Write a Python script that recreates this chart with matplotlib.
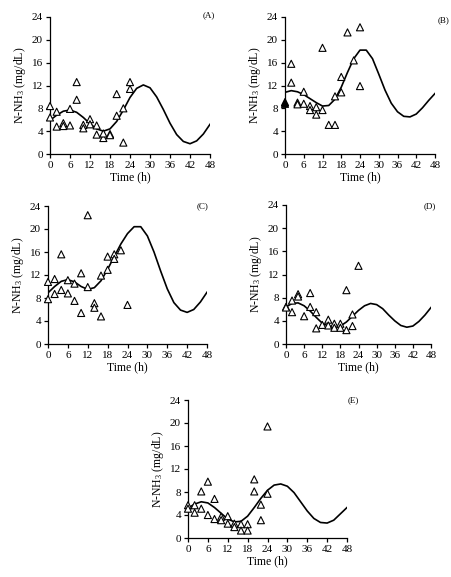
import matplotlib
matplotlib.use("Agg")
import matplotlib.pyplot as plt

plt.rcParams['font.family'] = ['Liberation Serif', 'DejaVu Serif']
plt.rcParams['mathtext.fontset'] = 'custom'
plt.rcParams['mathtext.rm'] = 'Liberation Serif'
plt.rcParams['mathtext.it'] = 'Liberation Serif:italic'

# sampling times of the observed points (two replicates per time)
t_obs = [0, 0, 2, 2, 4, 4, 6, 6, 8, 8, 10, 10, 12, 12, 14, 14, 16, 16, 18, 18, 20, 20, 22, 22, 24, 24]
t_fit = [0, 2, 4, 6, 8, 10, 12, 14, 16, 18, 20, 22, 24, 26, 28, 30, 32, 34, 36, 38, 40, 42, 44, 46, 48]

a_obs = [8.4, 6.4, 7.4, 4.8, 5.4, 4.9, 7.9, 5.0, 12.6, 9.5, 5.1, 4.5, 6.1, 5.2, 5.0, 3.4,
         2.8, 3.6, 3.5, 3.3, 10.5, 6.7, 8.0, 2.0, 12.6, 11.4]
a_fit = [5.9, 6.8, 7.5, 7.7, 7.3, 6.4, 5.3, 4.4, 4.0, 4.4, 5.7, 7.7, 9.9, 11.5, 12.1, 11.6,
         10.0, 7.8, 5.4, 3.4, 2.2, 1.8, 2.3, 3.5, 5.2]

b_t = [0, 0, 2, 2, 4, 4, 6, 6, 8, 8, 10, 10, 12, 12, 14, 16, 16, 18, 18, 20, 22, 24, 24]
b_obs = [9.1, 8.8, 15.8, 12.5, 9.0, 8.7, 10.9, 8.8, 8.4, 7.7, 8.2, 6.9, 18.6, 7.7, 5.1,
         5.1, 10.1, 13.5, 10.8, 21.3, 16.4, 22.2, 11.9]
b_fit = [10.8, 11.1, 10.9, 10.4, 9.7, 9.0, 8.4, 8.5, 9.6, 11.7, 14.3, 16.7, 18.2, 18.2, 16.7,
         14.0, 11.2, 8.9, 7.4, 6.6, 6.5, 7.0, 8.1, 9.4, 10.6]

c_t = [0, 0, 2, 2, 4, 4, 6, 6, 8, 8, 10, 10, 12, 12, 14, 14, 16, 16, 18, 18, 20, 20, 22, 24]
c_obs = [10.8, 7.8, 11.3, 8.7, 15.6, 9.4, 11.1, 8.8, 10.5, 7.5, 12.3, 5.4, 22.4, 9.9, 7.1,
         6.3, 11.9, 4.8, 15.2, 12.9, 15.6, 14.8, 16.3, 6.8]
c_fit = [8.9, 10.0, 10.9, 11.2, 10.8, 10.0, 9.5, 9.8, 11.0, 13.0, 15.2, 17.4, 19.2, 20.4, 20.4,
         18.8, 16.0, 12.7, 9.6, 7.2, 5.9, 5.5, 6.0, 7.3, 9.0]

d_t = [0, 0, 2, 2, 4, 4, 6, 8, 8, 10, 10, 12, 14, 14, 16, 16, 18, 18, 20, 20, 22, 22, 24]
d_obs = [6.4, 6.3, 7.5, 5.5, 8.6, 8.2, 4.8, 8.8, 6.4, 5.5, 2.7, 3.3, 4.2, 3.2, 3.5, 2.8,
         3.5, 2.8, 9.3, 2.4, 5.1, 3.1, 13.5]
d_fit = [6.4, 7.0, 7.1, 6.6, 5.7, 4.6, 3.6, 3.1, 2.9, 3.1, 3.8, 4.8, 5.8, 6.6, 7.0, 6.8,
         6.1, 5.0, 4.0, 3.2, 2.9, 3.1, 3.9, 5.0, 6.3]

e_obs = [5.7, 5.1, 5.7, 4.4, 8.1, 5.1, 9.8, 4.0, 6.8, 3.3, 3.7, 3.1, 3.8, 2.5, 2.5, 1.9,
         2.4, 1.3, 2.4, 1.3, 10.2, 8.1, 5.8, 3.1, 19.4, 7.7]
e_fit = [5.2, 5.9, 6.3, 6.1, 5.3, 4.3, 3.3, 2.8, 2.9, 3.8, 5.3, 6.9, 8.3, 9.2, 9.4, 9.0,
         7.9, 6.3, 4.7, 3.4, 2.7, 2.6, 3.1, 4.2, 5.3]

panels = [
    ("(A)", t_obs, a_obs, a_fit, (50, 210, 17, 154), (0.99, 1.01, 'center')),
    ("(B)", b_t, b_obs, b_fit, (285, 435, 17, 154), (1.02, 0.98, 'left')),
    ("(C)", c_t, c_obs, c_fit, (48, 207, 206, 344), (0.975, 1.0, 'center')),
    ("(D)", d_t, d_obs, d_fit, (286, 431, 205, 344), (0.99, 0.99, 'center')),
    ("(E)", t_obs, e_obs, e_fit, (188, 347, 400, 538), (1.006, 1.0, 'left')),
]

W, H = 451, 577
fig = plt.figure(figsize=(W / 100, H / 100), dpi=100)

for name, tx, ty, fit, (x0, x1, y0, y1), (lx, ly, lha) in panels:
    ax = fig.add_axes([x0 / W, 1 - y1 / H, (x1 - x0) / W, (y1 - y0) / H])
    ax.plot(t_fit, fit, color='black', lw=1.2, zorder=2, solid_joinstyle='round')
    fc = ['black' if (name == "(B)" and t == 0) else 'white' for t in tx]
    ax.scatter(tx, ty, marker='^', s=26, facecolors=fc, edgecolors='black',
               linewidths=0.8, zorder=3, clip_on=False)
    ax.set_xlim(0, 48)
    ax.set_ylim(0, 24)
    ax.set_xticks(range(0, 49, 6))
    ax.set_yticks(range(0, 25, 4))
    for s in ['top', 'right']:
        ax.spines[s].set_visible(False)
    for s in ['left', 'bottom']:
        ax.spines[s].set_linewidth(0.9)
    ax.tick_params(direction='out', length=3, width=0.9, labelsize=8, pad=2)
    ax.set_xlabel('Time (h)', fontsize=8.5, labelpad=1)
    ax.set_ylabel('N-NH$_3$ (mg/dL)', fontsize=8.5, labelpad=3)
    ax.text(lx, ly, name, transform=ax.transAxes, fontsize=6.5, ha=lha, va='center')

fig.savefig('out.png', dpi=100)
